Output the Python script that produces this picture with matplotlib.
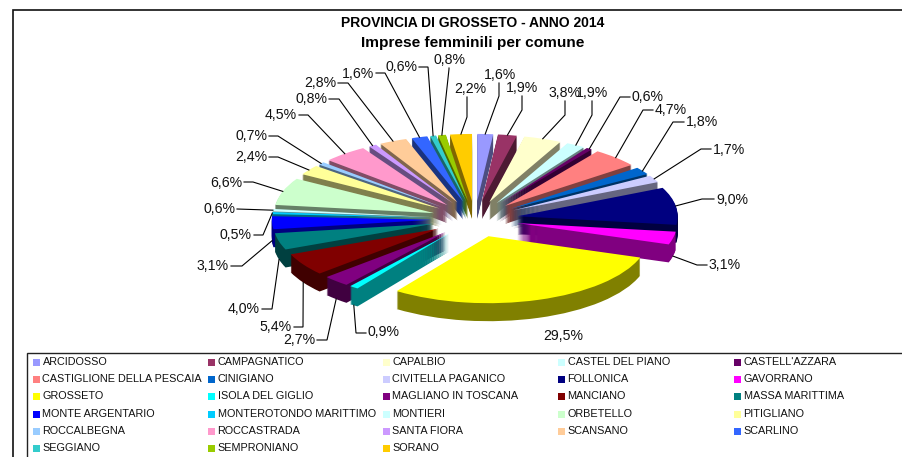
import numpy as np
import matplotlib
matplotlib.use('Agg')
import matplotlib.pyplot as plt
from matplotlib.patches import Rectangle
from matplotlib.colors import to_rgb

plt.rcParams['font.family'] = ['Liberation Sans', 'DejaVu Sans']

comuni = ['ARCIDOSSO', 'CAMPAGNATICO', 'CAPALBIO', 'CASTEL DEL PIANO', "CASTELL'AZZARA",
          'CASTIGLIONE DELLA PESCAIA', 'CINIGIANO', 'CIVITELLA PAGANICO', 'FOLLONICA', 'GAVORRANO',
          'GROSSETO', 'ISOLA DEL GIGLIO', 'MAGLIANO IN TOSCANA', 'MANCIANO', 'MASSA MARITTIMA',
          'MONTE ARGENTARIO', 'MONTEROTONDO MARITTIMO', 'MONTIERI', 'ORBETELLO', 'PITIGLIANO',
          'ROCCALBEGNA', 'ROCCASTRADA', 'SANTA FIORA', 'SCANSANO', 'SCARLINO',
          'SEGGIANO', 'SEMPRONIANO', 'SORANO']
percent = [1.6, 1.9, 3.8, 1.9, 0.6, 4.7, 1.8, 1.7, 9.0, 3.1,
           29.5, 0.9, 2.7, 5.4, 4.0, 3.1, 0.5, 0.6, 6.6, 2.4,
           0.7, 4.5, 0.8, 2.8, 1.6, 0.6, 0.8, 2.2]
colori = ['#9999FF', '#993366', '#FFFFCC', '#CCFFFF', '#660066', '#FF8080', '#0066CC', '#CCCCFF',
          '#000080', '#FF00FF', '#FFFF00', '#00FFFF', '#800080', '#800000', '#008080', '#0000FF',
          '#00CCFF', '#CCFFFF', '#CCFFCC', '#FFFF99', '#99CCFF', '#FF99CC', '#CC99FF', '#FFCC99',
          '#3366FF', '#33CCCC', '#99CC00', '#FFCC00']

# label centre and leader elbow, in pixels of the picture (None = no leader)
label_xy = [(500, 74), (522, 87), (565, 92), (592, 92), (648, 96), (671, 109), (702, 121), (729, 149),
            (732, 199), (725, 264), (563, 335), (384, 331), (299, 339), (276, 326), (244, 308),
            (213, 265), (236, 234), (219, 208), (226, 182), (251, 156), (251, 135), (281, 114),
            (311, 98), (320, 82), (358, 73), (401, 66), (449, 59), (470, 88)]
elbow_xy = [(499, 96), (522, 110), (565, 115), (592, 115), (620, 97), (643, 110), (673, 122), (701, 149),
            (702, 199), (697, 265), None, (356, 333), (327, 340), (303, 327), (272, 309),
            (242, 266), (263, 235), (237, 209), (253, 182), (278, 157), (278, 136), (308, 115),
            (339, 99), (348, 83), (385, 73), (428, 67), (449, 69), (467, 117)]

W, H = 903, 457
CX, CY = 475, 219     # pie centre
RX, RY = 160, 67      # pixels per unit of radius
DEPTH = 18            # pixels
EXPLODE = 0.27


def px(x, y):
    return (x - CX) / RX, (CY - y) / RY


fig = plt.figure(figsize=(W / 100, H / 100), dpi=100)
ax = fig.add_axes([0, 0, 1, 1])

# 3d look: a stack of pies shifted down, dark sides and the real colours on top
mid = (np.cumsum(percent) - np.array(percent) / 2) / np.sum(percent) * 2 * np.pi
order = np.argsort(np.argsort(-np.cos(mid)))
dark = [tuple(c * 0.5 for c in to_rgb(col)) for col in colori]

for d in range(DEPTH, -1, -1):
    wedges, _ = ax.pie(percent, explode=[EXPLODE] * len(percent), colors=colori if d == 0 else dark,
                       center=(0, -d / RY), radius=1, startangle=90, counterclock=False,
                       wedgeprops={'linewidth': 0})
    for w, o in zip(wedges, order):
        w.set_zorder(2 + o + (DEPTH - d) / 100)

ax.set_aspect('auto')
ax.set_xlim(px(0, 0)[0], px(W, 0)[0])
ax.set_ylim(px(0, H)[1], px(0, 0)[1])
ax.set_axis_off()

# data labels and leaders
for p, m, lab, elb in zip(percent, mid, label_xy, elbow_xy):
    ax.text(*px(lab[0], lab[1] + 1), f'{p:.1f}%'.replace('.', ','), fontsize=10.2, ha='center', va='center',
            color='#111111', zorder=50)
    if elb is None:
        continue
    ax_x = (1 + EXPLODE) * np.sin(m)
    ax_y = (1 + EXPLODE) * np.cos(m)
    if np.cos(m) < 0:
        ax_y -= DEPTH / RY
    # short stub next to the text, then down to the slice
    if abs(elb[0] - lab[0]) < 6:
        stub = (elb[0], lab[1] + 9)
    elif elb[0] < lab[0]:
        stub = (lab[0] - 18, elb[1])
    else:
        stub = (lab[0] + 18, elb[1])
    xs, ys = zip(px(*stub), px(*elb), (ax_x, ax_y))
    ax.plot(xs, ys, color='black', lw=0.8, zorder=49, solid_joinstyle='miter')

# titles
ax.text(*px(473, 22.5), 'PROVINCIA DI GROSSETO - ANNO 2014', fontsize=10, fontweight='bold',
        ha='center', va='center', color='black', zorder=50)
ax.text(*px(472.5, 42.5), 'Imprese femminili per comune', fontsize=11.1, fontweight='bold',
        ha='center', va='center', color='black', zorder=50)

# chart border, right and bottom fall outside the picture
ax.plot(*zip(px(13, H), px(13, 9.5), px(W, 9.5)), color='#111111', lw=1.2, zorder=60,
        solid_joinstyle='miter')

# legend box and entries, drawn by hand because the columns have the same width
ax.plot(*zip(px(27, H), px(27, 353), px(W, 353)), color='#222222', lw=1.0, zorder=60,
        solid_joinstyle='miter')
col_x = [33, 208, 383, 558, 734]
row_y = [362, 379, 396, 414, 431, 448]
for i, (nome, col) in enumerate(zip(comuni, colori)):
    x0 = col_x[i % 5]
    y0 = row_y[i // 5]
    ax.add_patch(Rectangle(px(x0, y0 + 3.5), 7 / RX, 7 / RY, facecolor=col, edgecolor='none', zorder=60))
    ax.text(*px(x0 + 9.5, y0), nome, fontsize=7.8, ha='left', va='center', color='#111111', zorder=60)

fig.savefig('out.png', dpi=100)
